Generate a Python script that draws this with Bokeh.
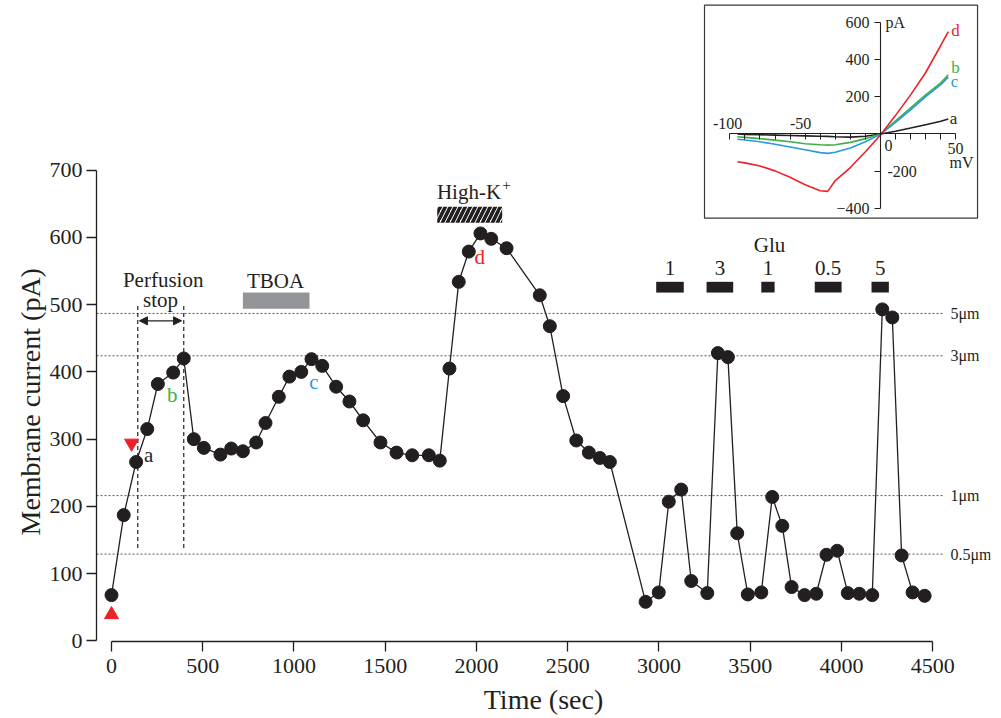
from bokeh.plotting import figure
from bokeh.models import (Range1d, LinearAxis, FixedTicker, Arrow, NormalHead, Title)
from bokeh.core.properties import value
from bokeh.embed import file_html
from bokeh.resources import INLINE

FONT = "Liberation Serif"
INK = "#231f20"
RED = "#ec2227"
GREEN = "#3fae49"
BLUE = "#2b9ad8"

# ---------------- main time course ----------------
time_s = [0, 67, 135, 196, 254, 338, 396, 451, 506, 597, 656, 720, 793, 844, 917, 975,
          1040, 1096, 1155, 1231, 1304, 1379, 1474, 1562, 1648, 1739, 1799, 1852, 1903,
          1958, 2022, 2081, 2165, 2347, 2402, 2475, 2547, 2616, 2676, 2731, 2927, 2999,
          3054, 3122, 3177, 3265, 3323, 3378, 3429, 3487, 3561, 3621, 3676, 3727, 3798,
          3862, 3918, 3977, 4035, 4098, 4169, 4224, 4279, 4330, 4390, 4456]
current_pA = [68, 187, 266, 315, 382, 399, 420, 300, 287, 277, 286, 282, 295, 324, 363, 393,
              400, 419, 409, 378, 356, 328, 295, 280, 276, 276, 268, 405, 534,
              579, 606, 598, 584, 514, 468, 364, 298, 280, 272, 266, 58, 72,
              207, 225, 89, 71, 428, 422, 160, 69, 72, 214, 171, 80, 68,
              70, 128, 134, 71, 70, 68, 493, 481, 127, 72, 67]

x_ticks = [0, 500, 1000, 1500, 2000, 2500, 3000, 3500, 4000, 4500]
y_ticks = [0, 100, 200, 300, 400, 500, 600, 700]

bead_levels = [487, 424, 216, 129]
bead_labels = ["5\u03bcm", "3\u03bcm", "1\u03bcm", "0.5\u03bcm"]

perfusion_stop = [144, 396]
tboa_period = [720, 1085]
highk_period = [1785, 2141]
glu_starts = [2985, 3261, 3561, 3854, 4165]
glu_ends = [3136, 3407, 3634, 4001, 4260]
glu_labels = ["1", "3", "1", "0.5", "5"]

trace_names = ["a", "b", "c", "d"]
trace_colors = [INK, GREEN, BLUE, RED]
trace_label_t = [204, 333, 1109, 2018]
trace_label_i = [276, 366, 385, 571]

marker_down_t = [110]
marker_down_i = [294]
marker_up_t = [0]
marker_up_i = [39]

# ---------------- inset I-V curves ----------------
iv_mV = [-95, -90, -80, -70, -60, -50, -40, -35, -30, -20, -10, 0, 10, 20, 30, 40, 45]
iv_a = [0, -2, -4, -6, -8, -10, -12, -13, -15, -17, -12, 0, 15, 32, 50, 68, 80]
iv_b = [-15, -18, -25, -33, -42, -52, -58, -60, -58, -45, -25, 0, 70, 140, 210, 275, 318]
iv_c = [-28, -32, -42, -55, -70, -85, -100, -104, -98, -75, -42, -2, 62, 130, 200, 265, 305]
iv_d = [-149, -155, -172, -198, -232, -272, -305, -308, -250, -180, -95, -5, 100, 210, 330, 475, 550]
iv_xticks = [-100, -90, -80, -70, -60, -50, -40, -30, -20, -10, 0, 10, 20, 30, 40, 50]
iv_yticks = [-400, -200, 0, 200, 400, 600]

# ---------------- figure ----------------
p = figure(width=1000, height=717, output_backend="svg", toolbar_location=None,
           x_range=Range1d(-82.2, 4817), y_range=Range1d(-1, 948),
           min_border_left=96, min_border_right=10, min_border_top=3, min_border_bottom=75)
p.outline_line_color = None
p.xgrid.visible = False
p.ygrid.visible = False
p.background_fill_color = "white"
p.border_fill_color = "white"

for ax in (p.xaxis[0], p.yaxis[0]):
    ax.axis_line_color = INK
    ax.axis_line_width = 1.3
    ax.major_tick_line_color = INK
    ax.major_tick_line_width = 1.3
    ax.major_tick_out = 10
    ax.major_tick_in = 0
    ax.minor_tick_out = 0
    ax.minor_tick_in = 0
    ax.major_label_text_font = FONT
    ax.major_label_text_font_size = "22px"
    ax.major_label_text_color = INK
    ax.major_label_standoff = 4
    ax.axis_label_text_font = FONT
    ax.axis_label_text_font_size = "28px"
    ax.axis_label_text_font_style = "normal"
    ax.axis_label_text_color = INK

p.xaxis.ticker = FixedTicker(ticks=x_ticks)
p.yaxis.ticker = FixedTicker(ticks=y_ticks)
p.xaxis.bounds = (x_ticks[0], x_ticks[-1])
p.yaxis.bounds = (y_ticks[0], y_ticks[-1])
p.xaxis.major_label_standoff = 7
p.xaxis.axis_label = "Time (sec)"
p.xaxis.axis_label_standoff = 8

p.add_layout(Title(text="Membrane current (pA)", align="left", offset=106, standoff=2,
                   text_font=FONT, text_font_size="28px", text_font_style="normal",
                   text_color=INK), "left")

# bead reference levels
p.segment(x0=[-82] * len(bead_levels), x1=[4560] * len(bead_levels), y0=bead_levels, y1=bead_levels,
          line_color="#555555", line_width=1, line_dash="2 2")
p.text(x=[4598] * len(bead_levels), y=bead_levels, text=bead_labels, text_font=value(FONT),
       text_font_size="16px", text_color=INK, text_align="left", text_baseline="middle")

# perfusion stop
p.segment(x0=perfusion_stop, x1=perfusion_stop, y0=[138, 138], y1=[502, 502],
          line_color=INK, line_width=1.2, line_dash="4 3")
p.add_layout(Arrow(x_start=perfusion_stop[0] + 9, x_end=perfusion_stop[1] - 12, y_start=476, y_end=476,
                   line_color=INK, line_width=1.3,
                   start=NormalHead(size=8, fill_color=INK, line_color=INK),
                   end=NormalHead(size=8, fill_color=INK, line_color=INK)))

# drug bars
p.quad(left=[tboa_period[0]], right=[tboa_period[1]], bottom=[494], top=[518],
       fill_color="#939598", line_color=None)
p.quad(left=[highk_period[0]], right=[highk_period[1]], bottom=[622], top=[645.5],
       fill_color="white", line_color=None, hatch_pattern="/", hatch_color=INK,
       hatch_weight=3.6, hatch_scale=10)
p.quad(left=glu_starts, right=glu_ends, bottom=[518] * len(glu_starts), top=[534] * len(glu_starts),
       fill_color=INK, line_color=None)
glu_mid = [(a + b) / 2 for a, b in zip(glu_starts, glu_ends)]
p.text(x=glu_mid, y=[555] * len(glu_mid), text=glu_labels, text_font=value(FONT),
       text_font_size="21px", text_color=INK, text_align="center", text_baseline="middle")

p.text(x=[283, 268.5, 899, 1959, 3606], y=[536, 507, 535, 667, 588.5],
       text=["Perfusion", "stop", "TBOA", "High-K", "Glu"], text_font=value(FONT),
       text_font_size="21px", text_color=INK, text_align="center", text_baseline="middle")
p.text(x=[2165], y=[678], text=["+"], text_font=value(FONT), text_font_size="15px",
       text_color=INK, text_align="center", text_baseline="middle")

# data
p.line(time_s, current_pA, line_color=INK, line_width=1.3)
p.scatter(time_s, current_pA, marker="circle", size=13, fill_color=INK, line_color=INK)
p.scatter(marker_down_t, marker_down_i, marker="inverted_triangle", size=14,
          fill_color=RED, line_color=RED)
p.scatter(marker_up_t, marker_up_i, marker="triangle", size=14, fill_color=RED, line_color=RED)

p.text(x=trace_label_t, y=trace_label_i, text=trace_names, text_color=trace_colors,
       text_font=value(FONT), text_font_size="21px", text_align="center", text_baseline="middle")

# ---------------- inset ----------------
p.extra_x_ranges = {"ix": Range1d(-520.3, 73.0)}
p.extra_y_ranges = {"iy": Range1d(-2724, 700.4)}

p.quad(left=[-116.8], right=[64.4], bottom=[-452], top=[692], fill_color="white",
       line_color="#3a3a3a", line_width=1.2, x_range_name="ix", y_range_name="iy")

for ys, col in ((iv_a, INK), (iv_b, GREEN), (iv_c, BLUE), (iv_d, RED)):
    p.line(iv_mV, ys, line_color=col, line_width=1.6, x_range_name="ix", y_range_name="iy")

ixa = LinearAxis(x_range_name="ix", y_range_name="iy", fixed_location=0,
                 bounds=(iv_xticks[0], iv_xticks[-1]), ticker=FixedTicker(ticks=iv_xticks),
                 major_label_overrides={t: "" for t in iv_xticks})
iya = LinearAxis(x_range_name="ix", y_range_name="iy", fixed_location=0,
                 bounds=(iv_yticks[0], iv_yticks[-1]), ticker=FixedTicker(ticks=iv_yticks),
                 major_label_overrides={0: "", -200: ""})
for ax in (ixa, iya):
    ax.axis_line_color = INK
    ax.axis_line_width = 1.1
    ax.major_tick_line_color = INK
    ax.major_tick_out = 6
    ax.major_tick_in = 0
    ax.minor_tick_out = 0
    ax.minor_tick_in = 0
    ax.major_label_text_font = FONT
    ax.major_label_text_font_size = "16px"
    ax.major_label_text_color = INK
    ax.major_label_standoff = 5
p.add_layout(ixa, "below")
p.add_layout(iya, "left")

p.text(x=[-101.5, -53, 5.3, 49.8, 53.8, 4.6, 3.3],
       y=[57, 57, -60, -77, -152, -200, 598],
       text=["-100", "-50", "0", "50", "mV", "-200", "pA"],
       text_align=["center", "center", "center", "center", "center", "left", "left"],
       text_font=value(FONT), text_font_size="16px", text_color=INK, text_baseline="middle",
       x_range_name="ix", y_range_name="iy")
p.text(x=[48.4, 49.8, 49.1, 49.8], y=[84, 357, 282, 556], text=trace_names,
       text_color=trace_colors, text_font=value(FONT), text_font_size="17px",
       text_align="center", text_baseline="middle", x_range_name="ix", y_range_name="iy")

open("out.html", "w").write(file_html(p, INLINE))
